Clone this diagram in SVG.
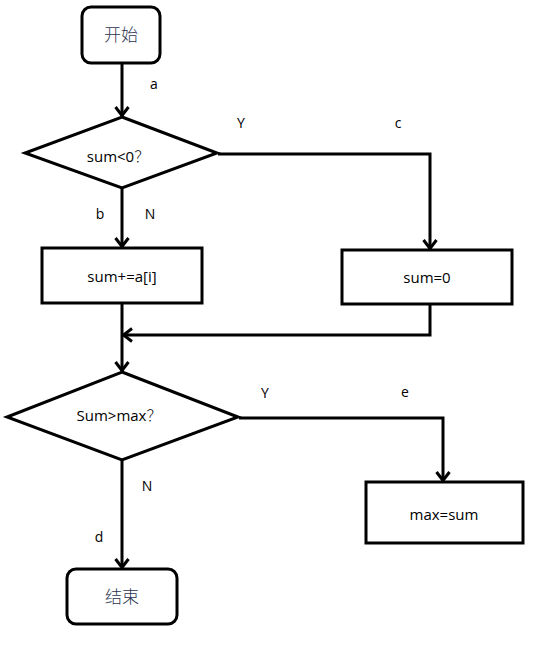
<svg xmlns="http://www.w3.org/2000/svg" width="533" height="654" viewBox="0 0 533 654">
<defs>
<style>
.box{fill:#fff;stroke:#000;stroke-width:3}
.ln{fill:none;stroke:#000;stroke-width:3;stroke-linejoin:miter}
.t{font-family:"Open Sans","Liberation Sans","Noto Sans CJK SC",sans-serif;font-size:15px;fill:#000;text-anchor:middle}
.q{font-family:"Noto Sans CJK SC",sans-serif;font-weight:300}
.cn{font-family:"Noto Sans CJK SC","Noto Sans",sans-serif;font-size:17px;fill:#2a3550;text-anchor:middle;font-weight:300}
.lb{font-family:"Open Sans","Liberation Sans",sans-serif;font-size:14px;fill:#000;text-anchor:middle}
</style>
<marker id="arr" markerUnits="userSpaceOnUse" markerWidth="16" markerHeight="16" refX="11" refY="8" orient="auto" viewBox="0 0 16 16">
<path d="M2,1.5 L10.5,8 L2,14.5" fill="none" stroke="#000" stroke-width="3"/>
</marker>
</defs>
<rect width="533" height="654" fill="#fff"/>
<g id="start">
<rect class="box" x="82" y="7" width="78" height="56" rx="9"/>
<text class="cn" x="121" y="41">开始</text>
</g>
<g id="cond1">
<polygon class="box" points="122,117 217,153 122,188 25,153"/>
<text class="t" x="118" y="162">sum&lt;0<tspan class="q">？</tspan></text>
</g>
<g id="add">
<rect class="box" x="42" y="248" width="160" height="55"/>
<text class="t" x="122" y="282">sum+=a[i]</text>
</g>
<g id="reset">
<rect class="box" x="342" y="250" width="170" height="54"/>
<text class="t" x="427" y="283">sum=0</text>
</g>
<g id="cond2">
<polygon class="box" points="122,372 238,417 122,460 7,417"/>
<text class="t" x="119" y="421">Sum&gt;max<tspan class="q">？</tspan></text>
</g>
<g id="update">
<rect class="box" x="366" y="482" width="157" height="61"/>
<text class="t" x="444" y="520">max=sum</text>
</g>
<g id="end">
<rect class="box" x="67" y="569" width="110" height="55" rx="9"/>
<text class="cn" x="122" y="603">结束</text>
</g>
<g id="connectors">
<line class="ln" x1="122" y1="64" x2="122" y2="116" marker-end="url(#arr)"/>
<line class="ln" x1="122" y1="189" x2="122" y2="247" marker-end="url(#arr)"/>
<polyline class="ln" points="218,154 430,154 430,249" marker-end="url(#arr)"/>
<polyline class="ln" points="430,305 430,335 123,335" marker-end="url(#arr)"/>
<line class="ln" x1="122" y1="304" x2="122" y2="371" marker-end="url(#arr)"/>
<polyline class="ln" points="239,418 443,418 443,481" marker-end="url(#arr)"/>
<line class="ln" x1="122" y1="461" x2="122" y2="568" marker-end="url(#arr)"/>
<text class="lb" x="154" y="89">a</text>
<text class="lb" x="241" y="128">Y</text>
<text class="lb" x="398" y="128">c</text>
<text class="lb" x="100" y="219">b</text>
<text class="lb" x="150" y="219">N</text>
<text class="lb" x="265" y="398">Y</text>
<text class="lb" x="405" y="397">e</text>
<text class="lb" x="147" y="491">N</text>
<text class="lb" x="99" y="542">d</text>
</g>
</svg>
